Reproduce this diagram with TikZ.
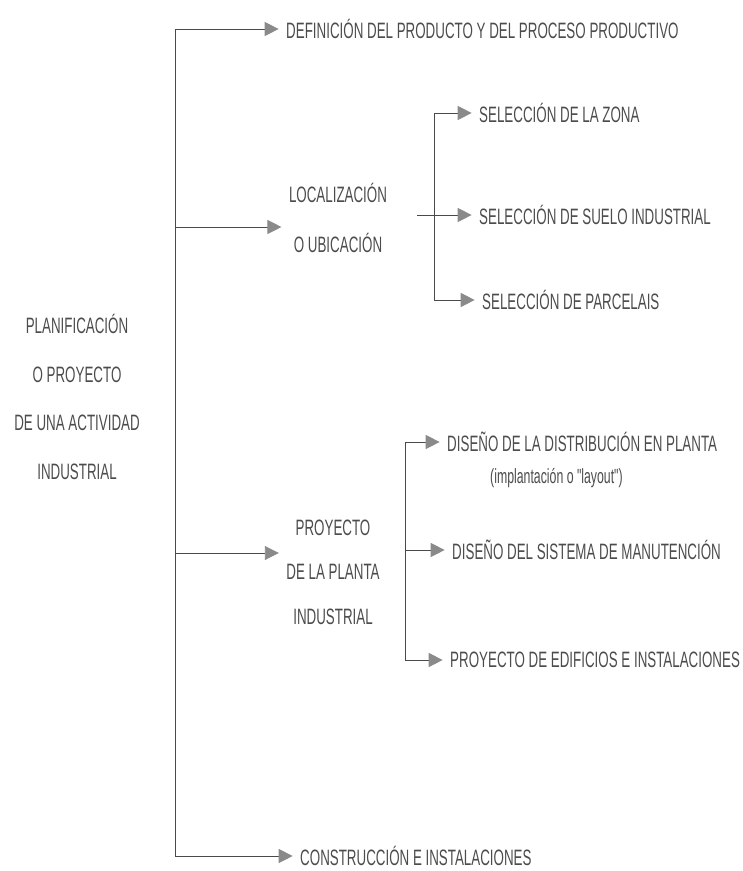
\documentclass[tikz,border=0pt]{standalone}
\usepackage{fontspec}
\usepackage{tikz}
\usetikzlibrary{arrows.meta,positioning}
\newfontfamily\estrecha{Liberation Sans}[FakeStretch=0.6]
\definecolor{grislinea}{HTML}{4A4A4A}
\definecolor{grispunta}{HTML}{8A8A8A}
\definecolor{tinta}{HTML}{4C4C4C}

\begin{document}
\begin{tikzpicture}[
    x=0.03cm, y=-0.03cm,
    texto/.style={inner sep=0pt, text=tinta, font=\estrecha\fontsize{19}{22}\selectfont},
    rama/.style={texto, anchor=west},
    bloque/.style={texto, align=center, font=\estrecha\fontsize{19}{#1}\selectfont},
    bloque/.default=42,
    nota/.style={texto, anchor=west, font=\estrecha\fontsize{17.5}{20}\selectfont},
    linea/.style={draw=grislinea, line width=0.8pt},
    flecha/.style={linea, -{Triangle[length=4.2mm, width=4.2mm, color=grispunta]}, shorten >=2.2mm}
  ]
    \useasboundingbox (0,0) rectangle (742,871);

    % bloque principal y ramas
    \node[bloque=41.7] (raiz) at (77,397) {PLANIFICACIÓN\\O PROYECTO\\DE UNA ACTIVIDAD\\INDUSTRIAL};
    \node[rama] (definicion) at (286,29) {DEFINICIÓN DEL PRODUCTO Y DEL PROCESO PRODUCTIVO};
    \node[bloque=42.5] (localizacion) at (338,218) {LOCALIZACIÓN\\O UBICACIÓN};
    \node[bloque=38] (proyecto) at (333,572) {PROYECTO\\DE LA PLANTA\\INDUSTRIAL};
    \node[rama] (construccion) at (300,856) {CONSTRUCCIÓN E INSTALACIONES};

    % localizacion
    \node[rama] (zona) at (479,113) {SELECCIÓN DE LA ZONA};
    \node[rama] (suelo) at (479,215) {SELECCIÓN DE SUELO INDUSTRIAL};
    \node[rama] (parcelas) at (482,300) {SELECCIÓN DE PARCELAIS};

    % proyecto de la planta
    \node[rama] (distribucion) at (447,442) {DISEÑO DE LA DISTRIBUCIÓN EN PLANTA};
    \node[nota] (layout) at (490,478) {(implantación o "layout")};
    \node[rama] (manutencion) at (452,550) {DISEÑO DEL SISTEMA DE MANUTENCIÓN};
    \node[rama] (edificios) at (450,660) {PROYECTO DE EDIFICIOS E INSTALACIONES};

    \coordinate (eje) at (175,29);
    \coordinate (locin) at ([yshift=-2.7mm]localizacion.west);
    \coordinate (proyin) at ([yshift=5.7mm]proyecto.west);
    \coordinate (barloc) at (434,113);
    \coordinate (locout) at (417,215);
    \coordinate (barproy) at (405,442);

    \draw[linea] (eje |- definicion) -- (eje |- construccion);
    \draw[flecha] (eje |- definicion) -- (definicion);
    \draw[flecha] (eje |- locin) -- (locin);
    \draw[flecha] (eje |- proyin) -- (proyin);
    \draw[flecha] (eje |- construccion) -- (construccion);

    \draw[linea] (barloc |- zona) -- (barloc |- parcelas);
    \draw[flecha] (barloc |- zona) -- (zona);
    \draw[flecha] (locout) -- (suelo);
    \draw[flecha] (barloc |- parcelas) -- (parcelas);

    \draw[linea] (barproy |- distribucion) -- (barproy |- edificios);
    \draw[flecha] (barproy |- distribucion) -- (distribucion);
    \draw[flecha] (barproy |- manutencion) -- (manutencion);
    \draw[flecha] (barproy |- edificios) -- (edificios);
  \end{tikzpicture}
\end{document}
